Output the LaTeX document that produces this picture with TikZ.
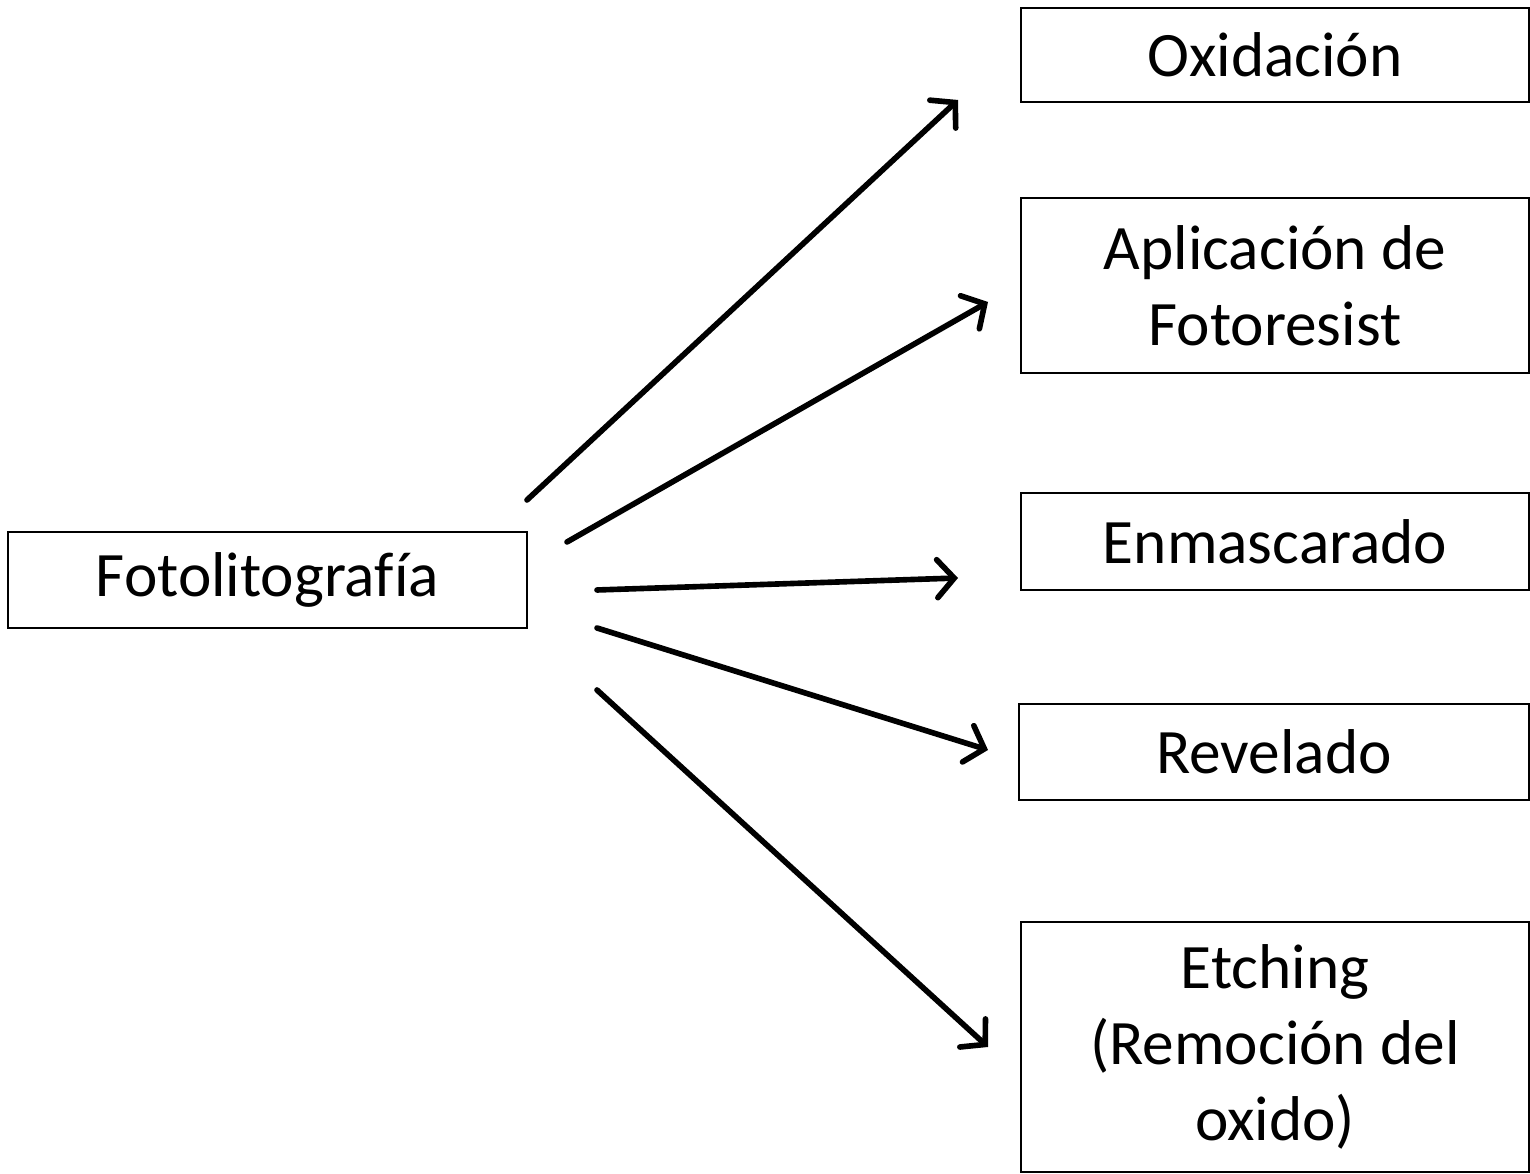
\documentclass[tikz,border=0pt]{standalone}
\usepackage{fontspec}
\setmainfont{Carlito}[Ligatures=CommonOff]
\usetikzlibrary{arrows.meta}
\tikzset{
    caja/.style={draw, line width=0.6pt, inner sep=0pt, minimum width=5.08cm, align=center,
      font=\fontsize{18}{21.6}\selectfont},
    flecha/.style={line width=1.6pt, line cap=round,
      -{Straight Barb[length=1.7mm, width=3.8mm, line width=1.6pt, line cap=round]}},
  }

\begin{document}
\begin{tikzpicture}[x=0.01cm, y=-0.01cm]
				  \useasboundingbox (0,0) rectangle (1530,1174);
				  %CAJAS
				  \node[caja, minimum width=5.19cm, minimum height=0.96cm] (foto) at (267.5,580) {Fotolitograf\'ia};
				  \node[caja, minimum height=0.94cm] (oxi) at (1275,55) {Oxidaci\'on};
				  \node[caja, minimum height=1.75cm] (apli) at (1275,285.5) {Aplicaci\'on de\\Fotoresist};
				  \node[caja, minimum height=0.97cm] (enm) at (1275,541.5) {Enmascarado};
				  \node[caja, minimum width=5.10cm, minimum height=0.96cm] (rev) at (1274,752) {Revelado};
				  \node[caja, minimum height=2.50cm] (etch) at (1275,1047) {Etching\\(Remoci\'on del\\oxido)};
				  
				  %extremos
				  \coordinate (s_1) at (527,500);
				  \coordinate (s_2) at (567,542);
				  \coordinate (s_3) at (597,590);
				  \coordinate (s_4) at (597,628);
				  \coordinate (s_5) at (597,690);
				  \coordinate (e_1) at (958,100);
				  \coordinate (e_2) at (988,302);
				  \coordinate (e_3) at (958,578);
				  \coordinate (e_4) at (988,750);
				  \coordinate (e_5) at (988,1047);
				  
				  %FLECHAS
				  \draw[flecha] (s_1) -- (e_1);
				  \draw[flecha] (s_2) -- (e_2);
				  \draw[flecha] (s_3) -- (e_3);
				  \draw[flecha] (s_4) -- (e_4);
				  \draw[flecha] (s_5) -- (e_5);
\end{tikzpicture}
\end{document}
